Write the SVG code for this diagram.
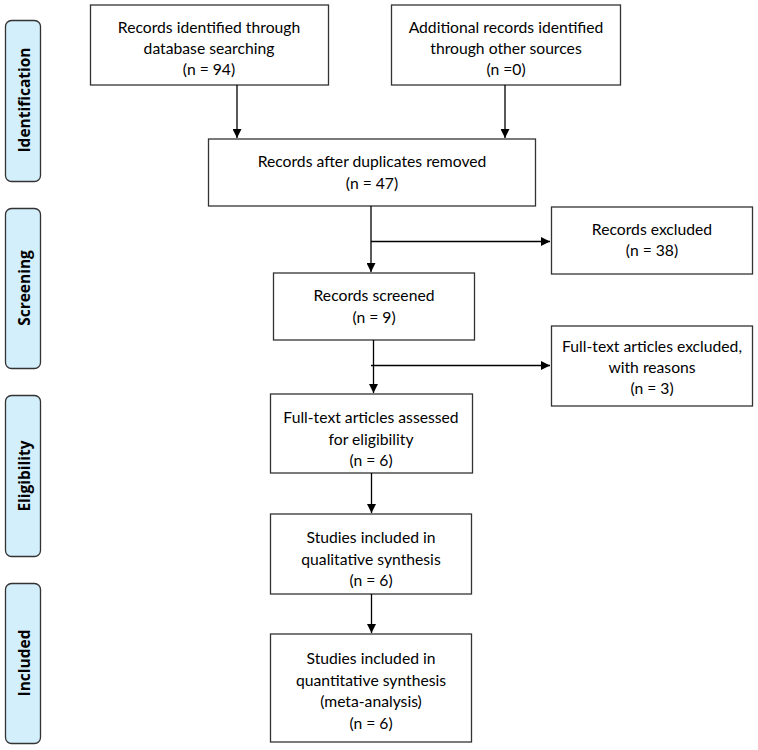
<svg xmlns="http://www.w3.org/2000/svg" width="758" height="750" viewBox="0 0 758 750">
<defs>
<marker id="ah" viewBox="0 0 10 10" refX="10" refY="5" markerWidth="9" markerHeight="9" markerUnits="userSpaceOnUse" orient="auto"><path d="M0,0 L10,5 L0,10 Z" fill="#000"/></marker>
</defs>
<style>
.box{fill:#fff;stroke:#333;stroke-width:1.3}
.side{fill:#d3effc;stroke:#333;stroke-width:1.3}
.t{font-family:Lato,"Open Sans",sans-serif;font-size:15.7px;fill:#000;text-anchor:middle}
.st{font-family:"Open Sans","Noto Sans",sans-serif;font-size:15.5px;font-weight:bold;fill:#000;text-anchor:middle}
.c{fill:none;stroke:#000;stroke-width:1.3}
</style>
<rect width="758" height="750" fill="#fff"/>
<g id="side-identification"><rect class="side" x="5.5" y="20.5" width="35" height="161" rx="6"/><text class="st" transform="translate(30,100) rotate(-90)">Identification</text></g>
<g id="side-screening"><rect class="side" x="5.5" y="208.5" width="35" height="160" rx="6"/><text class="st" transform="translate(30,288) rotate(-90)">Screening</text></g>
<g id="side-eligibility"><rect class="side" x="5.5" y="395.5" width="35" height="161" rx="6"/><text class="st" transform="translate(30,476) rotate(-90)">Eligibility</text></g>
<g id="side-included"><rect class="side" x="5.5" y="583.5" width="35" height="160" rx="6"/><text class="st" transform="translate(30,663) rotate(-90)">Included</text></g>

<g id="n-database"><rect class="box" x="90.5" y="5" width="238" height="80"/><text class="t" x="209" y="32.5">Records identified through</text><text class="t" x="209" y="53.5">database searching</text><text class="t" x="209" y="75">(n = 94)</text></g>
<g id="n-other"><rect class="box" x="391.5" y="5" width="229" height="80"/><text class="t" x="506" y="32.5">Additional records identified</text><text class="t" x="506" y="53.5">through other sources</text><text class="t" x="506" y="75">(n =0)</text></g>
<g id="n-dupes"><rect class="box" x="208.5" y="139" width="327" height="67"/><text class="t" x="372" y="167">Records after duplicates removed</text><text class="t" x="372" y="189">(n = 47)</text></g>
<g id="n-excluded"><rect class="box" x="551.5" y="207" width="201" height="67"/><text class="t" x="652" y="235">Records excluded</text><text class="t" x="652" y="256">(n = 38)</text></g>
<g id="n-screened"><rect class="box" x="273.5" y="273" width="201" height="67"/><text class="t" x="374" y="301">Records screened</text><text class="t" x="374" y="323">(n = 9)</text></g>
<g id="n-ftexcluded"><rect class="box" x="551.5" y="326" width="201" height="80"/><text class="t" x="652" y="351.5">Full-text articles excluded,</text><text class="t" x="652" y="372.5">with reasons</text><text class="t" x="652" y="394">(n = 3)</text></g>
<g id="n-assessed"><rect class="box" x="270.5" y="394" width="202" height="79"/><text class="t" x="371" y="423">Full-text articles assessed</text><text class="t" x="371" y="444.5">for eligibility</text><text class="t" x="371" y="466">(n = 6)</text></g>
<g id="n-qualitative"><rect class="box" x="270.5" y="514" width="201" height="80"/><text class="t" x="371" y="543">Studies included in</text><text class="t" x="371" y="564.5">qualitative synthesis</text><text class="t" x="371" y="586">(n = 6)</text></g>
<g id="n-quantitative"><rect class="box" x="270.5" y="634" width="201" height="108"/><text class="t" x="371" y="664">Studies included in</text><text class="t" x="371" y="685.5">quantitative synthesis</text><text class="t" x="371" y="707">(meta-analysis)</text><text class="t" x="371" y="728.5">(n = 6)</text></g>

<g id="connectors">
<line class="c" x1="237" y1="85" x2="237" y2="138" marker-end="url(#ah)"/>
<line class="c" x1="505" y1="85" x2="505" y2="138" marker-end="url(#ah)"/>
<line class="c" x1="371" y1="206" x2="371" y2="272" marker-end="url(#ah)"/>
<line class="c" x1="371" y1="241.5" x2="550" y2="241.5" marker-end="url(#ah)"/>
<line class="c" x1="373.5" y1="340" x2="373.5" y2="393" marker-end="url(#ah)"/>
<line class="c" x1="371" y1="365.5" x2="550" y2="365.5" marker-end="url(#ah)"/>
<line class="c" x1="371.5" y1="473" x2="371.5" y2="513" marker-end="url(#ah)"/>
<line class="c" x1="371.5" y1="594" x2="371.5" y2="633" marker-end="url(#ah)"/>
</g>
</svg>
